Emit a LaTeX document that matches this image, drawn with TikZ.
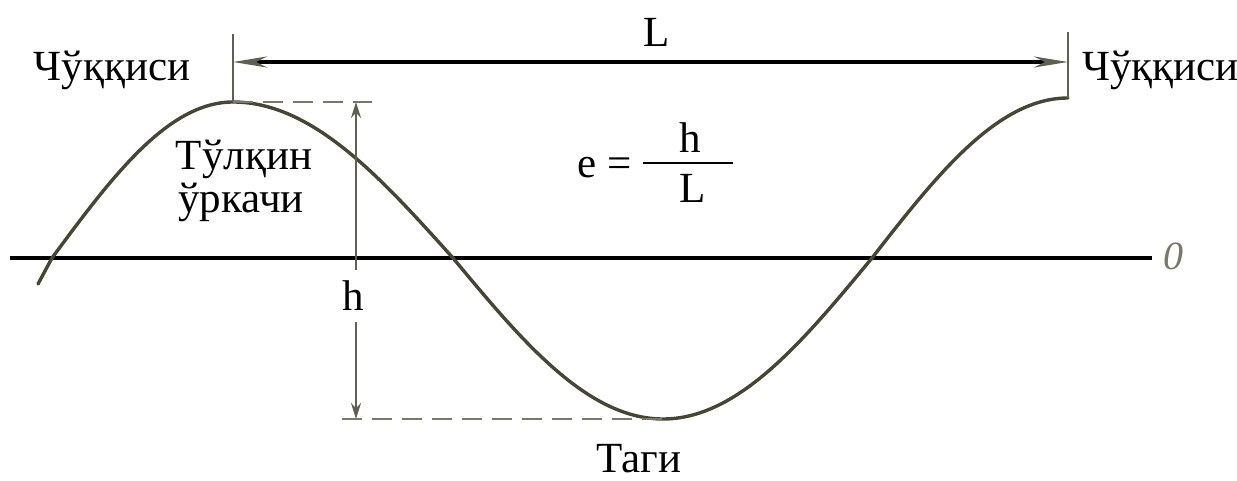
\documentclass[tikz,border=0pt]{standalone}
\usepackage{fontspec}
\newfontfamily\tnr{Liberation Serif}
\usetikzlibrary{arrows.meta}
\definecolor{wavecol}{RGB}{70,70,52}
\definecolor{dimgray}{RGB}{95,95,82}
\definecolor{dashgray}{RGB}{120,120,108}
\begin{document}
\begin{tikzpicture}[x=1pt,y=-1pt,
  txt/.style={font=\fontsize{43}{45}\selectfont\tnr, anchor=base},
  wave/.style={line width=3.4pt, draw=wavecol, line cap=round},
  axisline/.style={line width=4.6pt, draw=black},
  vline/.style={line width=2pt, draw=dimgray},
  dimline/.style={line width=4pt, draw=black,
     {Stealth[length=34pt,width=11pt,color=dimgray]}-{Stealth[length=34pt,width=11pt,color=dimgray]}},
  harrow/.style={line width=2pt, draw=dimgray, -{Stealth[length=16pt,width=10pt,color=dimgray]}},
  dashline/.style={line width=2.4pt, draw=dashgray, dash pattern=on 20pt off 10pt}
]
\useasboundingbox[fill=white] (0,0) rectangle (1237,481);

% labels
\node[txt] (lpeak) at (112,81) {Чўққиси};
\node[txt, anchor=base west, inner xsep=0pt] (rpeak) at (1082,81) {Чўққиси};
\node[txt] (crestA) at (244,170) {Тўлқин};
\node[txt] (crestB) at (241,213) {ўркачи};
\node[txt] (bottom) at (639,472) {Таги};
\node[txt] (Llab) at (657,47) {L};
\node[txt] (hlab) at (353,310) {h};

% formula
\node[txt] (eq) at (605,178) {e =};
\node[txt] (fh) at (690,153) {h};
\node[txt] (fL) at (693,203) {L};
\coordinate (fb0) at (643,163);
\coordinate (fb1) at (733,163);
\draw[line width=2pt, draw=black] (fb0) -- (fb1);

% wave key points
\coordinate (w0) at (38,284);
\coordinate (z1) at (52,258);
\coordinate (crest1) at (233,102);
\coordinate (z2) at (453,258);
\coordinate (trough) at (663,419);
\coordinate (z3) at (872,258);
\coordinate (crest2) at (1068,98);

% axis
\coordinate (ax0) at (10,258);
\coordinate (ax1) at (1152,258);
\draw[axisline] (ax0) -- (ax1);

% wave
\draw[wave] (w0) -- (z1) sin (crest1) cos (z2) sin (trough) cos (z3) sin (crest2);

% vertical marks at peaks
\coordinate (lt) at (233,34);
\coordinate (rt) at (1068,32);
\draw[vline] (lt) -- (crest1);
\draw[vline] (rt) -- (crest2);

% L dimension
\coordinate (La) at (233,62);
\coordinate (Lb) at (1068,62);
\draw[dimline] (La) -- (Lb);

% dashed lines
\coordinate (dtop) at (372,102);
\coordinate (dbot) at (342,419);
\draw[dashline] (crest1) -- (dtop);
\draw[dashline] (dbot) -- (trough);

% h dimension
\coordinate (htop) at (356,102);
\coordinate (hbot) at (356,419);
\coordinate (hgapt) at (356,270);
\coordinate (hgapb) at (356,322);
\draw[harrow] (hgapt) -- (htop);
\draw[harrow] (hgapb) -- (hbot);

% axis label
\node[font=\fontsize{40}{44}\selectfont\tnr\itshape, text=dashgray] (zero) at (1173,256) {0};
\end{tikzpicture}
\end{document}
